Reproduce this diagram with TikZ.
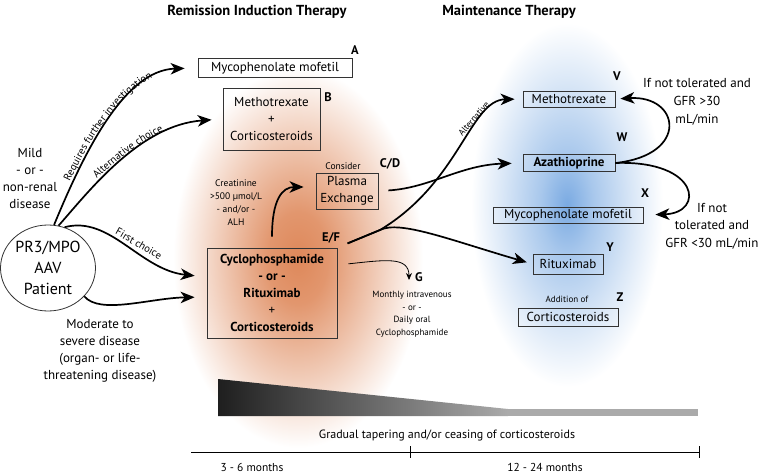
\documentclass[tikz,border=0pt]{standalone}
\usepackage{fontspec}
\setmainfont{PT Sans}
\usetikzlibrary{arrows.meta,decorations.text,shapes.geometric}
\definecolor{glowor}{RGB}{222,136,90}
\definecolor{glowbl}{RGB}{122,170,226}
\definecolor{taper}{RGB}{170,170,170}
\pgfdeclareradialshading{orglow}{\pgfpoint{0bp}{0bp}}{color(0bp)=(glowor);color(6bp)=(glowor!88!white);color(16bp)=(glowor!42!white);color(25bp)=(white);color(50bp)=(white)}
\pgfdeclareradialshading{blglow}{\pgfpoint{0bp}{0bp}}{color(0bp)=(glowbl);color(7bp)=(glowbl!65!white);color(17bp)=(glowbl!28!white);color(25bp)=(white);color(50bp)=(white)}
\newcommand{\mainfnt}{\fontsize{13}{17}\selectfont}
\newcommand{\smallfnt}{\fontsize{9.5}{13}\selectfont}
\newcommand{\pathfnt}{\fontsize{10.5}{12}\selectfont}
\tikzstyle{box}=[draw=black!80,line width=0.8pt,inner xsep=4pt,inner ysep=2pt,align=center,font=\mainfnt]
\tikzstyle{lbl}=[font=\fontsize{12.5}{15}\selectfont\bfseries]
\tikzstyle{txt}=[align=center,font=\mainfnt]
\tikzstyle{smalltxt}=[align=center,font=\smallfnt]
\tikzstyle{conn}=[line width=1.7pt,-{Stealth[length=14pt,width=11.5pt,inset=4pt]}]
\tikzstyle{thinconn}=[line width=0.8pt,-{Stealth[length=7pt,width=6pt]}]

\begin{document}
\begin{tikzpicture}[x=1pt,y=-1pt]
	\useasboundingbox (0,0) rectangle (758,473);
	\shade[shading=orglow] (298,258) ellipse (125 and 190);
	\shade[shading=blglow] (567,205) ellipse (96 and 182);

	\node[font=\fontsize{14.5}{17}\selectfont\bfseries] (tri) at (257,12) {Remission Induction Therapy};
	\node[font=\fontsize{14.5}{17}\selectfont\bfseries] (tm) at (509,12) {Maintenance Therapy};

	\node[draw=black!80,line width=0.8pt,ellipse,inner sep=0pt,minimum width=95,minimum height=86,align=center,font=\fontsize{16}{21}\selectfont] (pat) at (48,268) {PR3/MPO\\AAV\\Patient};
	\node[txt] (mild) at (30,178) {Mild\\- or -\\non-renal\\disease};
	\node[txt] (mod) at (100,351) {Moderate to\\severe disease\\(organ- or life-\\threatening disease)};

	\node[box,minimum width=154,minimum height=19] (a) at (275,68) {Mycophenolate mofetil};
	\node[box,minimum width=97,minimum height=62] (b) at (271.5,119) {Methotrexate\\+\\Corticosteroids};
	\node[box,minimum width=62,minimum height=36,inner xsep=2pt] (pe) at (347,191) {Plasma\\Exchange};
	\node[box,minimum width=130,minimum height=90] (ef) at (272,293) {\bfseries Cyclophosphamide\\\bfseries - or -\\\bfseries Rituximab\\+\\\bfseries Corticosteroids};
	\node[smalltxt] (crea) at (236,203) {Creatinine\\>500 µmol/L\\- and/or -\\ALH};
	\node[smalltxt] (cons) at (343,166) {Consider};
	\node[smalltxt,font=\fontsize{9}{12.5}\selectfont] (mon) at (412,314) {Monthly intravenous\\- or -\\Daily oral\\Cyclophosphamide};
	\coordinate (gtip) at (409,280);

	\node[box,minimum width=92,minimum height=16] (v) at (569,99) {Methotrexate};
	\node[box,minimum width=92,minimum height=17] (w) at (569,163) {\bfseries Azathioprine};
	\node[box,minimum width=150,minimum height=16] (x) at (568,215) {Mycophenolate mofetil};
	\node[box,minimum width=70,minimum height=20] (y) at (568,264) {Rituximab};
	\node[box,minimum width=100,minimum height=18] (z) at (568,317) {Corticosteroids};
	\node[smalltxt,font=\fontsize{9}{11}\selectfont] (add) at (567,299) {Addition of};
	\node[txt,font=\fontsize{13}{18}\selectfont] (gt) at (697,102) {If not tolerated and\\GFR >30\\mL/min};
	\node[txt,font=\fontsize{13}{17.5}\selectfont] (lt) at (712,226) {If not\\tolerated and\\GFR <30 mL/min};

	\node[lbl] (la) at (355,50) {A};
	\node[lbl] (lb) at (328,97) {B};
	\node[lbl] (lcd) at (390,164) {C/D};
	\node[lbl] (lef) at (331,238) {E/F};
	\node[lbl] (lg) at (419,277) {G};
	\node[lbl] (lv) at (617,76) {V};
	\node[lbl] (lw) at (622,137) {W};
	\node[lbl] (lx) at (645,193) {X};
	\node[lbl] (ly) at (610,247) {Y};
	\node[lbl] (lz) at (620,297) {Z};

	\draw[conn,shorten >=13pt,postaction={decorate,decoration={text along path,text={|\pathfnt|Requires further investigation},text align=center,raise=3pt}}] (pat.82) .. controls (85,150) and (125,70) .. (a.west);
	\draw[conn,shorten >=11pt,postaction={decorate,decoration={text along path,text={|\pathfnt|Alternative choice},text align=center,raise=3pt}}] (pat.76) .. controls (90,190) and (140,125) .. (b.west);
	\draw[conn,shorten >=12pt,postaction={decorate,decoration={text along path,text={|\pathfnt|First choice},text align=center,raise=3pt}}] (pat.68) .. controls (110,215) and (140,270) .. ([yshift=16pt]ef.west);
	\draw[conn,shorten >=12pt] (pat.-38) .. controls (100,315) and (150,298) .. ([yshift=-4pt]ef.west);

	\draw[conn,shorten <=11pt,shorten >=12pt] (ef.north) .. controls (272,200) and (282,187) .. ([yshift=4pt]pe.west);
	\draw[thinconn,shorten <=11pt] ([yshift=28pt]ef.east) .. controls (385,260) and (409,256) .. (gtip);

	\coordinate (fork) at (380,230);
	\draw[conn,shorten <=11pt,shorten >=8pt] (ef.north east) -- (fork) .. controls (460,182) and (470,100) .. (v.west) node[sloped,above,pos=0.66,font=\fontsize{9}{11}\selectfont] {Alternative};
	\draw[conn,shorten <=11pt,shorten >=6pt] (ef.north east) -- (fork) .. controls (400,220) and (450,240) .. (y.west);
	\draw[conn,shorten <=10pt,shorten >=11pt] (pe.east) .. controls (430,188) and (460,165) .. (w.west);
	\draw[conn,shorten >=5pt] (w.east) .. controls (690,155) and (680,95) .. (v.east);
	\draw[conn,shorten >=12pt] (w.east) .. controls (700,160) and (705,213) .. (x.east);

	\shade[left color=black!88,right color=taper] (218,379) -- (508,409) -- (508,416) -- (218,416) -- cycle;
	\fill[taper] (508,409) rectangle (698,416);
	\node[font=\fontsize{12}{14}\selectfont] (cap) at (447,435) {Gradual tapering and/or ceasing of corticosteroids};
	\coordinate (t0) at (191,452);
	\coordinate (t1) at (410,452);
	\coordinate (t2) at (699,452);
	\draw[line width=0.9pt] (t0) -- (t2);
	\draw[line width=0.9pt] (t1) ++(0,-6) -- ++(0,12);
	\draw[line width=0.9pt] (t2) ++(0,-6) -- ++(0,12);
	\node[font=\fontsize{11.5}{14}\selectfont] (m1) at (252,467) {3 - 6 months};
	\node[font=\fontsize{11.5}{14}\selectfont] (m2) at (545,467) {12 - 24 months};
\end{tikzpicture}
\end{document}
